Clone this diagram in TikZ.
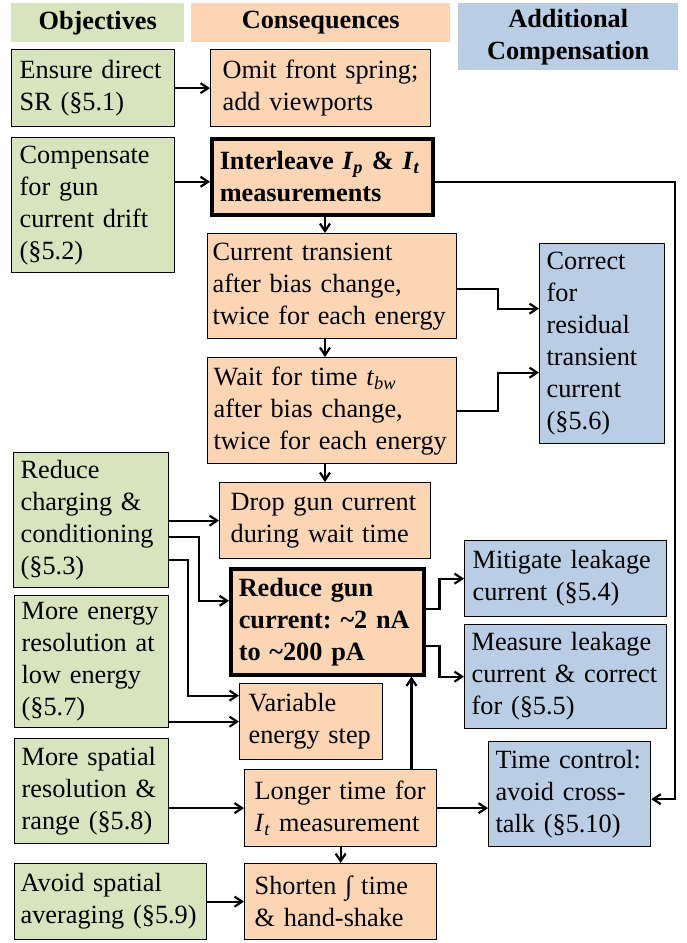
\documentclass[tikz,border=0pt]{standalone}
\usepackage{fontspec}
\setmainfont{Liberation Serif}
\usetikzlibrary{arrows.meta,calc}

\definecolor{objgreen}{RGB}{215,228,189}
\definecolor{consorange}{RGB}{252,213,181}
\definecolor{compblue}{RGB}{185,205,229}

\tikzset{
	box/.style={draw=black, line width=1.3pt, anchor=north west, align=left, inner xsep=4pt, inner ysep=2pt, font=\fontsize{26.3}{32}\selectfont},
	obj/.style={box, fill=objgreen},
	cons/.style={box, fill=consorange},
	comp/.style={box, fill=compblue},
	key/.style={line width=3.5pt, font=\fontsize{26.3}{32}\selectfont\bfseries},
	head/.style={anchor=north west, align=center, inner sep=0pt, font=\fontsize{26.3}{32}\selectfont\bfseries},
	link/.style={->, line width=2.2pt}
}

\begin{document}
\frenchspacing
\begin{tikzpicture}[x=1pt, y=-1pt, >={Straight Barb[length=7.5pt,width=10pt]}]
	
	\useasboundingbox (0,0) rectangle (686,943);
	
	% column heads
	\node[head, fill=objgreen, minimum width=173, minimum height=39, text width=173] (hobj) at (11,3) {Objectives};
	\node[head, fill=consorange, minimum width=259, minimum height=39, text width=259] (hcons) at (191,3) {Consequences};
	\node[head, fill=compblue, minimum width=220, minimum height=67, text width=220] (hcomp) at (458,3) {Additional\\Compensation};
	
	% objectives
	\node[obj, minimum width=163, minimum height=77, text width=147] (o1) at (11,49) {Ensure direct\\SR (§5.1)};
	\node[obj, minimum width=163, minimum height=135, text width=147] (o2) at (11,137) {Compensate\\for gun\\current drift\\(§5.2)};
	\node[obj, minimum width=155, minimum height=135, text width=141] (o3) at (13,452) {Reduce\\charging \&\\conditioning\\(§5.3)};
	\node[obj, minimum width=154, minimum height=132, text width=140] (o4) at (14,595) {More energy\\resolution at\\low energy\\(§5.7)};
	\node[obj, minimum width=154, minimum height=105, text width=140] (o5) at (14,738) {More spatial\\resolution \&\\range (§5.8)};
	\node[obj, minimum width=192, minimum height=76, text width=180] (o6) at (14,863) {Avoid spatial\\averaging (§5.9)};
	
	% consequences
	\node[cons, minimum width=220, minimum height=77, text width=196] (c1) at (210,49) {Omit front spring;\\add viewports};
	\node[cons, key, minimum width=221, minimum height=76, text width=205] (c2) at (210,137) {Interleave \textit{I}\textsubscript{\textit{p}} \& \textit{I}\textsubscript{\textit{t}}\\measurements};
	\node[cons, minimum width=249, minimum height=105, text width=239] (c3) at (207,233) {Current transient\\after bias change,\\twice for each energy};
	\node[cons, minimum width=249, minimum height=106, text width=237] (c4) at (207,357) {Wait for time \textit{t}\textsubscript{\textit{bw}}\\after bias change,\\twice for each energy};
	\node[cons, minimum width=211, minimum height=76, text width=189] (c5) at (219,482) {Drop gun current\\during wait time};
	\node[cons, key, minimum width=193, minimum height=106, text width=177] (c6) at (229,567) {Reduce gun\\current: \textasciitilde2 nA\\to \textasciitilde200 pA};
	\node[cons, minimum width=143, minimum height=76, text width=125] (c7) at (239,683) {Variable\\energy step};
	\node[cons, minimum width=192, minimum height=77, text width=172] (c8) at (244,769) {Longer time for\\\textit{I}\textsubscript{\textit{t}} measurement};
	\node[cons, minimum width=192, minimum height=76, text width=172] (c9) at (244,863) {Shorten ∫ time\\\& hand-shake};
	
	% additional compensation
	\node[comp, minimum width=125, minimum height=200, text width=111] (a1) at (539,243) {Correct\\for\\residual\\transient\\current\\(§5.6)};
	\node[comp, minimum width=202, minimum height=76, text width=186] (a2) at (464,540) {Mitigate leakage\\current (§5.4)};
	\node[comp, minimum width=202, minimum height=104, text width=188] (a3) at (464,624) {Measure leakage\\current \& correct\\for (§5.5)};
	\node[comp, minimum width=162, minimum height=105, text width=148] (a4) at (488,741) {Time control:\\avoid cross-\\talk (§5.10)};
	
	% guide lines for the connectors
	\coordinate (spine) at (325,0);
	\coordinate (rail) at (675,0);
	\coordinate (lift) at ($(c6.south east)+(-14,0)$);
	
	% objectives to consequences
	\draw[link] (o1) -- (c1);
	\draw[link] ($(o2.east |- c2)+(0,5)$) -- ($(c2.west)+(0,5)$);
	\draw[link] (o3.east |- c5) -- (c5);
	\draw[link] ($(o3.east)+(0,17)$) -- ++(30,0) |- ($(c6.west)+(0,-21)$);
	\draw[link] ($(o3.east)+(0,40)$) -- ++(19,0) |- ($(c7.west)+(0,-26)$);
	\draw[link] (o4.east |- c7) -- (c7);
	\draw[link] (o5.east |- c8) -- (c8);
	\draw[link] (o6) -- (c9);
	
	% down the middle column
	\draw[link] (c2.south -| spine) -- (c3.north -| spine);
	\draw[link] (c3.south -| spine) -- (c4.north -| spine);
	\draw[link] (c4.south -| spine) -- (c5.north -| spine);
	\draw[link] (c8.north -| lift) -- (lift);
	\draw[link] (c8) -- (c9);
	
	% consequences to compensation
	\draw[link] ($(c2.east)+(0,5)$) -| ($(rail |- a4.east)+(0,5)$) -- ($(a4.east)+(0,5)$);
	\draw[link] ($(c3.east)+(0,3)$) -- ++(41,0) |- ($(a1.west)+(0,-35)$);
	\draw[link] (c4.east) -- ++(41,0) |- ($(a1.west)+(0,29)$);
	\draw[link] ($(c6.east)+(0,-13)$) -- ++(14,0) |- (a2);
	\draw[link] ($(c6.east)+(0,24)$) -- ++(14,0) |- (a3);
	\draw[link] (c8) -- (c8 -| a4.west);
	
\end{tikzpicture}
\end{document}
